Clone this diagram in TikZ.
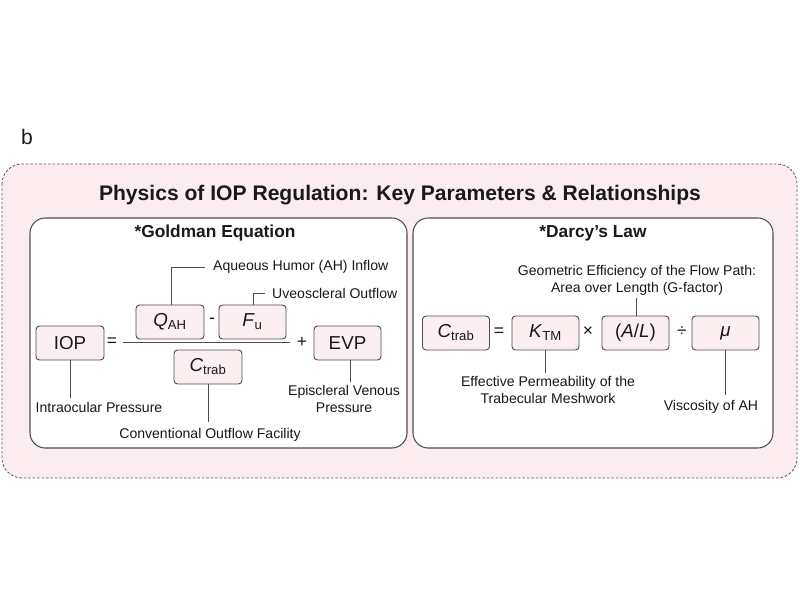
\documentclass[tikz,border=0pt]{standalone}
\usepackage{fontspec}
\setmainfont{Liberation Sans}
\usetikzlibrary{
  positioning,
  calc
}
\definecolor{panelpink}{HTML}{FBEDEF}
\definecolor{boxpink}{HTML}{FCEFF1}
\definecolor{edgegray}{HTML}{4D4D4D}

\begin{document}
\begin{tikzpicture}[
  x=0.03cm, y=-0.03cm,
  every node/.style={text=black!90, inner sep=0pt},
  term/.style={
    draw=edgegray, fill=boxpink, line width=0.8pt, rounded corners=3pt,
    minimum width=67*0.03cm, minimum height=34*0.03cm,
    font=\fontsize{16}{18}\selectfont
  },
  op/.style={font=\fontsize{15}{18}\selectfont},
  lab/.style={font=\fontsize{12}{14.5}\selectfont, align=center},
  link/.style={draw=edgegray, line width=0.8pt}
]
\useasboundingbox (0,0) rectangle (800,600);
\node[font=\fontsize{18}{20}\selectfont] (tag) at (27,137) {b};
\draw[black!65, dash pattern=on 2.2pt off 1.6pt, line width=0.7pt, fill=panelpink, rounded corners=17pt]
  (2,164) rectangle (797,478);
\node[font=\bfseries\fontsize{18}{21}\selectfont] (title) at (400,195)
  {Physics of IOP Regulation: Key Parameters \& Relationships};
\draw[edgegray, line width=0.9pt, fill=white, rounded corners=13pt]
  (30,218) rectangle (407,448);
\draw[edgegray, line width=0.9pt, fill=white, rounded corners=13pt]
  (413,218) rectangle (773,448);
\node[font=\bfseries\fontsize{14.8}{17}\selectfont] (goldman) at (215,233) {*Goldman Equation};
\node[font=\bfseries\fontsize{14.8}{17}\selectfont] (darcy) at (593,233) {*Darcy’s Law};

% Goldman
\node[term, minimum width=68*0.03cm] (iop) at (70,343) {IOP};
\node[op] (eq1) at (112,342) {=};
\coordinate (fracl) at (123,342);
\coordinate (fracr) at (290,342);
\draw[link] (fracl) -- (fracr);
\node[term, minimum width=68*0.03cm] (qah) at (170,322) {\textit{Q}\textsubscript{AH}};
\node[op] (minus) at (212,321) {-};
\node[term] (fu) at (252.5,322) {\textit{F}\textsubscript{u}};
\node[term, minimum width=68*0.03cm] (ctrab) at (208,367) {\textit{C}\textsubscript{trab}};
\node[op] (plus) at (302,342) {+};
\node[term] (evp) at (347.5,343) {EVP};

\node[lab] (iolab) at (99,407) {Intraocular Pressure};
\node[lab] (coflab) at (210,435) {Conventional Outflow Facility};
\node[lab] (evplab) at (344,399) {Episcleral Venous\\Pressure};
\node[lab, anchor=west] (ahlab) at (213,267) {Aqueous Humor (AH) Inflow};
\node[lab, anchor=west] (uvlab) at (272,293) {Uveoscleral Outflow};

\draw[link] (iop.south) -- ($(iop.south |- iolab.north)+(0,-4)$);
\draw[link] (ctrab.south) -- ($(ctrab.south |- coflab.north)+(0,-6)$);
\draw[link] ($(evp.south)+(3,0)$) -- ($(evp.south |- evplab.north)+(3,-3)$);
\draw[link] ($(qah.north)+(1,0)$) |- ($(ahlab.west)+(-8,0)$);
\draw[link] ($(fu.north)+(0.5,0)$) |- ($(uvlab.west)+(-7,0)$);

% Darcy
\node[term] (ctrab2) at (456,333) {\textit{C}\textsubscript{trab}};
\node[op] (eq2) at (499,332) {=};
\node[term] (ktm) at (545.5,333) {\textit{K}\textsubscript{TM}};
\node[op] (times) at (588,332) {×};
\node[term] (al) at (635.5,333) {(\textit{A}/\textit{L})};
\node[op] (div) at (682,332) {÷};
\node[term] (mu) at (725.5,333) {\textit{μ}};

\node[lab] (gflab) at (637,280) {Geometric Efficiency of the Flow Path:\\Area over Length (G-factor)};
\node[lab] (ktmlab) at (548,390) {Effective Permeability of the\\Trabecular Meshwork};
\node[lab] (mulab) at (711,407) {Viscosity of AH};

\draw[link] ($(al.north)+(1,0)$) -- ($(al.north |- gflab.south)+(1,3)$);
\draw[link] (ktm.south) -- ($(ktm.south |- ktmlab.north)+(0,-3)$);
\draw[link] (mu.south) -- ($(mu.south |- mulab.north)+(0,-5)$);
\end{tikzpicture}
\end{document}
